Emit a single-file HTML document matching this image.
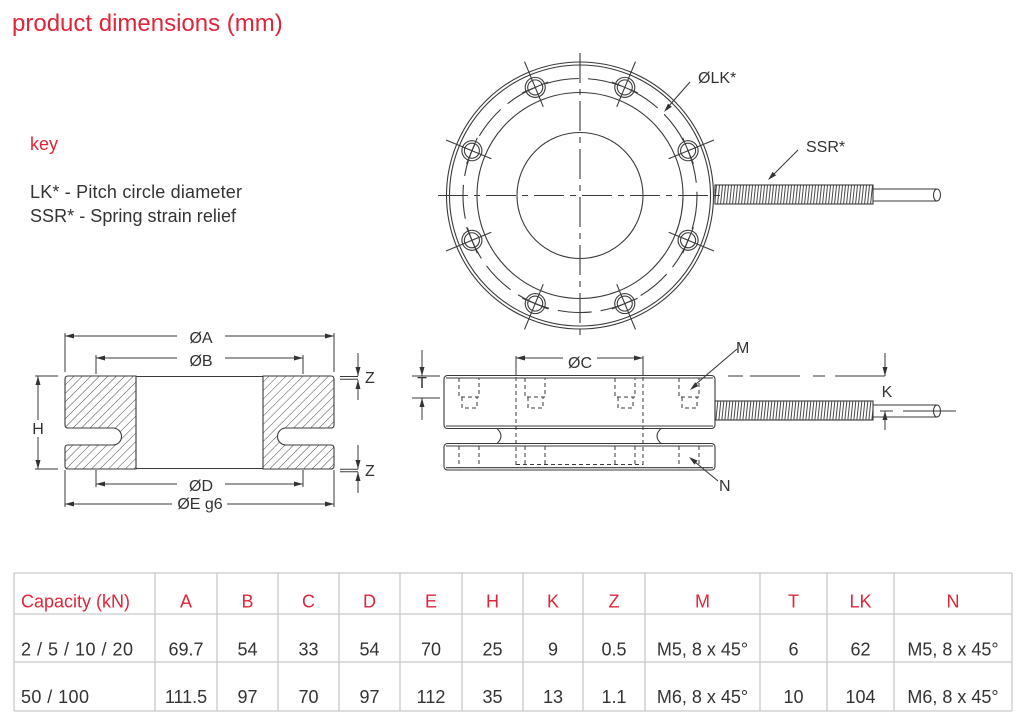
<!DOCTYPE html>
<html><head><meta charset="utf-8"><style>
html,body{margin:0;padding:0;background:#fff;}
svg{display:block;}
text{font-family:"Liberation Sans",sans-serif;}
</style></head><body>
<svg width="1021" height="722" viewBox="0 0 1021 722" xmlns="http://www.w3.org/2000/svg">
<defs>
<pattern id="hatch" patternUnits="userSpaceOnUse" width="6" height="10" patternTransform="rotate(45)">
<line x1="0" y1="0" x2="0" y2="10" stroke="#3a3a3a" stroke-width="0.9"/>
</pattern>
<pattern id="spring" patternUnits="userSpaceOnUse" width="3" height="40" patternTransform="skewX(-6)">
<line x1="1" y1="0" x2="1" y2="40" stroke="#333" stroke-width="0.9"/>
</pattern>
</defs>

<!-- Title & key -->
<text x="12" y="31" font-size="24" fill="#e0253a">product dimensions (mm)</text>
<text x="30" y="150" font-size="18" fill="#e0253a">key</text>
<text x="30" y="198" font-size="18" fill="#333" textLength="212">LK* - Pitch circle diameter</text>
<text x="30" y="222" font-size="18" fill="#333" textLength="206">SSR* - Spring strain relief</text>

<g fill="none" stroke="#3a3a3a" stroke-width="1.1">
<!-- ===== Top view ===== -->
<circle cx="580" cy="195.5" r="133.5"/>
<circle cx="580" cy="195.5" r="130.5"/>
<circle cx="580" cy="195.5" r="103"/>
<circle cx="580" cy="195.5" r="117" stroke-dasharray="34 9"/>
<circle cx="580" cy="195.5" r="63"/>
<line x1="438" y1="195.5" x2="722" y2="195.5" stroke-dasharray="30 6 6 6"/>
<line x1="580" y1="53" x2="580" y2="337" stroke-dasharray="30 6 6 6"/>
<!-- holes -->
<g transform="translate(580,195.5)">
<g transform="rotate(22.5)"><circle cx="0" cy="-117" r="10"/><circle cx="0" cy="-117" r="7.5"/><line x1="0" y1="-96" x2="0" y2="-145"/><line x1="-14" y1="-117" x2="14" y2="-117"/></g>
<g transform="rotate(67.5)"><circle cx="0" cy="-117" r="10"/><circle cx="0" cy="-117" r="7.5"/><line x1="0" y1="-96" x2="0" y2="-145"/><line x1="-14" y1="-117" x2="14" y2="-117"/></g>
<g transform="rotate(112.5)"><circle cx="0" cy="-117" r="10"/><circle cx="0" cy="-117" r="7.5"/><line x1="0" y1="-96" x2="0" y2="-145"/><line x1="-14" y1="-117" x2="14" y2="-117"/></g>
<g transform="rotate(157.5)"><circle cx="0" cy="-117" r="10"/><circle cx="0" cy="-117" r="7.5"/><line x1="0" y1="-96" x2="0" y2="-145"/><line x1="-14" y1="-117" x2="14" y2="-117"/></g>
<g transform="rotate(202.5)"><circle cx="0" cy="-117" r="10"/><circle cx="0" cy="-117" r="7.5"/><line x1="0" y1="-96" x2="0" y2="-145"/><line x1="-14" y1="-117" x2="14" y2="-117"/></g>
<g transform="rotate(247.5)"><circle cx="0" cy="-117" r="10"/><circle cx="0" cy="-117" r="7.5"/><line x1="0" y1="-96" x2="0" y2="-145"/><line x1="-14" y1="-117" x2="14" y2="-117"/></g>
<g transform="rotate(292.5)"><circle cx="0" cy="-117" r="10"/><circle cx="0" cy="-117" r="7.5"/><line x1="0" y1="-96" x2="0" y2="-145"/><line x1="-14" y1="-117" x2="14" y2="-117"/></g>
<g transform="rotate(337.5)"><circle cx="0" cy="-117" r="10"/><circle cx="0" cy="-117" r="7.5"/><line x1="0" y1="-96" x2="0" y2="-145"/><line x1="-14" y1="-117" x2="14" y2="-117"/></g>
</g>
<!-- spring & cable top -->
<rect x="715" y="185" width="158" height="19" fill="url(#spring)"/>
<path d="M873,189 H937 M873,201 H937"/>
<ellipse cx="937" cy="195" rx="3.5" ry="6"/>
<!-- leaders -->
<line x1="690" y1="82" x2="668" y2="107"/>
<line x1="798" y1="150" x2="773" y2="175"/>

<!-- ===== Cross-section ===== -->
<path d="M68,376 H136 V469 H68 Q65,469 65,466 V448 Q65,445 68,445 H113 A8.5,8.5 0 0 0 113,428 H68 Q65,428 65,425 V379 Q65,376 68,376 Z" fill="url(#hatch)"/>
<path d="M331,376 H263 V469 H331 Q334,469 334,466 V448 Q334,445 331,445 H286 A8.5,8.5 0 0 1 286,428 H331 Q334,428 334,425 V379 Q334,376 331,376 Z" fill="url(#hatch)"/>
<line x1="136" y1="376.5" x2="263" y2="376.5"/>
<line x1="136" y1="468.5" x2="263" y2="468.5"/>
<g stroke-width="1">
<!-- extension lines -->
<line x1="65" y1="333" x2="65" y2="372"/><line x1="334" y1="333" x2="334" y2="372"/>
<line x1="96" y1="355" x2="96" y2="374"/><line x1="303" y1="355" x2="303" y2="374"/>
<line x1="96" y1="470" x2="96" y2="487"/><line x1="303" y1="470" x2="303" y2="487"/>
<line x1="65" y1="470" x2="65" y2="507"/><line x1="334" y1="470" x2="334" y2="507"/>
<!-- dims -->
<path d="M65,336 H177 M225,336 H334"/>
<path d="M96,358 H177 M225,358 H303"/>
<path d="M96,484 H177 M225,484 H303"/>
<path d="M65,504 H172 M227,504 H334"/>
<!-- H -->
<path d="M35,376 H58 M35,469 H58"/>
<path d="M38,376 V420 M38,437 V469"/>
<!-- Z -->
<path d="M340,376.5 H358 M340,379.3 H358 M358,353 V376 M358,380 V400"/>
<path d="M340,469.3 H358 M340,471.8 H358 M358,445 V469 M358,472 V493"/>
</g>

<!-- ===== Side view ===== -->
<rect x="444" y="375.5" width="271" height="53" rx="3.5"/>
<line x1="446" y1="378" x2="713" y2="378"/>
<line x1="446" y1="426" x2="713" y2="426"/>
<rect x="444" y="443.5" width="271" height="26.5" rx="3.5"/>
<line x1="446" y1="446" x2="713" y2="446"/>
<line x1="446" y1="467.7" x2="713" y2="467.7"/>
<path d="M497,428.5 Q505,436 497,443.5"/>
<path d="M661,428.5 Q653,436 661,443.5"/>
<g stroke-width="1" stroke-dasharray="4 3">
<!-- holes top -->
<path d="M459,378 V397 H479 V378 M462,397 V408 H477 V397"/>
<path d="M525,378 V397 H545 V378 M528,397 V408 H543 V397"/>
<path d="M615,378 V397 H635 V378 M618,397 V408 H633 V397"/>
<path d="M679,378 V397 H699 V378 M682,397 V408 H697 V397"/>
<!-- holes bottom -->
<path d="M459,446 V468 M479,446 V468 M525,446 V468 M545,446 V468 M615,446 V468 M635,446 V468 M679,446 V468 M699,446 V468"/>
<!-- bore -->
<path d="M516,377 V465 M643,377 V465 M516,464.5 H643"/>
</g>
<g stroke-width="1">
<path d="M516,356 V376 M643,356 V376"/>
<path d="M516,358 H563 M597,358 H643"/>
<!-- T -->
<path d="M412,376 H440 M412,398 H440 M422,350 V376 M422,398 V420"/>
<!-- K -->
<path d="M728,376 H743 M750,376 H800 M813,376 H825 M835,376 H885"/>
<path d="M885,353 V376 M885,411 V430 M880,411 H893 M903,411 H956"/>
</g>
<rect x="715" y="401" width="158" height="19" fill="url(#spring)"/>
<path d="M873,405 H937 M873,417 H937"/>
<ellipse cx="937" cy="411" rx="3.5" ry="6"/>
<line x1="737" y1="349" x2="696" y2="384"/>
<line x1="718" y1="481" x2="695" y2="462"/>
</g>

<!-- arrowheads -->
<g fill="#333">
<polygon points="664,112 671.8,106.8 668,103.6"/>
<polygon points="768,180 776.1,175.4 772.6,171.9"/>
<polygon points="690,390 698.4,386 695.2,382.2"/>
<polygon points="689,457 697.6,460.6 694.5,464.6"/>
<polygon points="65,336 74,333.5 74,338.5"/><polygon points="334,336 325,333.5 325,338.5"/>
<polygon points="96,358 105,355.5 105,360.5"/><polygon points="303,358 294,355.5 294,360.5"/>
<polygon points="96,484 105,481.5 105,486.5"/><polygon points="303,484 294,481.5 294,486.5"/>
<polygon points="65,504 74,501.5 74,506.5"/><polygon points="334,504 325,501.5 325,506.5"/>
<polygon points="38,376 35.5,385 40.5,385"/><polygon points="38,469 35.5,460 40.5,460"/>
<polygon points="358,376 355.5,367 360.5,367"/><polygon points="358,380 355.5,389 360.5,389"/>
<polygon points="358,469 355.5,460 360.5,460"/><polygon points="358,472 355.5,481 360.5,481"/>
<polygon points="516,358 525,355.5 525,360.5"/><polygon points="643,358 634,355.5 634,360.5"/>
<polygon points="422,376 419.5,367 424.5,367"/><polygon points="422,398 419.5,407 424.5,407"/>
<polygon points="885,376 882.5,367 887.5,367"/><polygon points="885,411 882.5,420 887.5,420"/>
</g>

<!-- diagram labels -->
<g font-size="16" fill="#333">
<text x="698" y="83">ØLK*</text>
<text x="806" y="152">SSR*</text>
<text x="201" y="343" text-anchor="middle">ØA</text>
<text x="201" y="366" text-anchor="middle">ØB</text>
<text x="201" y="491" text-anchor="middle">ØD</text>
<text x="200" y="509" text-anchor="middle">ØE g6</text>
<text x="38" y="434" text-anchor="middle">H</text>
<text x="365" y="383">Z</text>
<text x="365" y="476">Z</text>
<text x="580" y="368" text-anchor="middle">ØC</text>
<text x="422" y="388" text-anchor="middle">T</text>
<text x="736" y="353">M</text>
<text x="719" y="491">N</text>
<text x="887" y="397" text-anchor="middle">K</text>
</g>

<!-- table -->
<g stroke="#c9c9c9" stroke-width="1.3" fill="none">
<path d="M14,573 H1012 M14,614 H1012 M14,662 H1012 M14,711 H1012"/>
<path d="M14,573 V711 M155,573 V711 M217,573 V711 M278,573 V711 M339,573 V711 M400,573 V711 M462,573 V711 M523,573 V711 M583,573 V711 M645,573 V711 M760,573 V711 M827,573 V711 M894,573 V711 M1012,573 V711"/>
</g>
<g font-size="18" fill="#e0253a" text-anchor="middle">
<text x="21" y="607.5" text-anchor="start">Capacity (kN)</text>
<text x="186" y="607.5">A</text><text x="247.5" y="607.5">B</text><text x="308.5" y="607.5">C</text>
<text x="369.5" y="607.5">D</text><text x="431" y="607.5">E</text><text x="492.5" y="607.5">H</text>
<text x="553" y="607.5">K</text><text x="614" y="607.5">Z</text><text x="702.5" y="607.5">M</text>
<text x="793.5" y="607.5">T</text><text x="860.5" y="607.5">LK</text><text x="953" y="607.5">N</text>
</g>
<g font-size="18" fill="#333" text-anchor="middle">
<text x="21" y="655.5" text-anchor="start" textLength="112">2 / 5 / 10 / 20</text>
<text x="186" y="655.5">69.7</text><text x="247.5" y="655.5">54</text><text x="308.5" y="655.5">33</text>
<text x="369.5" y="655.5">54</text><text x="431" y="655.5">70</text><text x="492.5" y="655.5">25</text>
<text x="553" y="655.5">9</text><text x="614" y="655.5">0.5</text><text x="702.5" y="655.5">M5, 8 x 45°</text>
<text x="793.5" y="655.5">6</text><text x="860.5" y="655.5">62</text><text x="953" y="655.5">M5, 8 x 45°</text>
<text x="21" y="703" text-anchor="start" textLength="68">50 / 100</text>
<text x="186" y="703">111.5</text><text x="247.5" y="703">97</text><text x="308.5" y="703">70</text>
<text x="369.5" y="703">97</text><text x="431" y="703">112</text><text x="492.5" y="703">35</text>
<text x="553" y="703">13</text><text x="614" y="703">1.1</text><text x="702.5" y="703">M6, 8 x 45°</text>
<text x="793.5" y="703">10</text><text x="860.5" y="703">104</text><text x="953" y="703">M6, 8 x 45°</text>
</g>
</svg>
</body></html>
